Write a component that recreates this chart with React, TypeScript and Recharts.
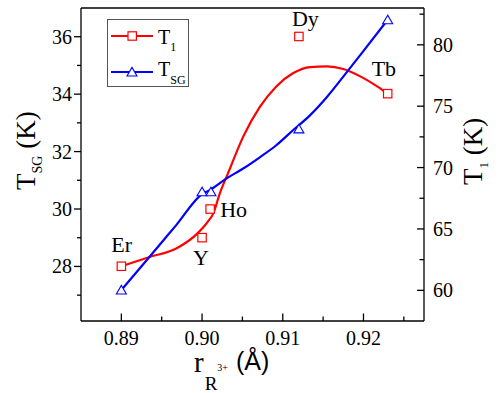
import React from 'react';
import { ComposedChart, Line, XAxis, YAxis, ReferenceLine } from 'recharts';

// measured points
const ions = ['Er', 'Y', 'Ho', 'Dy', 'Tb'];
const radius = [0.89, 0.9, 0.901, 0.912, 0.923];
const t1Values = [61.96, 64.29, 66.62, 80.68, 76.02];
const tsgRadius = [0.89, 0.9, 0.9011, 0.912, 0.923];
const tsgValues = [27.18, 30.6, 30.6, 32.79, 36.59];

// guide curves
const t1CurveR = [0.89, 0.8935, 0.8968, 0.8995, 0.9007, 0.9014, 0.9022, 0.9032, 0.9051, 0.9072, 0.9092, 0.9113, 0.9134, 0.9155, 0.9175, 0.9196, 0.9217, 0.923];
const t1CurveV = [61.96, 62.72, 63.41, 64.68, 65.58, 66.27, 67.9, 69.5, 72.52, 74.98, 76.61, 77.7, 78.19, 78.24, 78.03, 77.43, 76.61, 76.02];
const tsgCurveR = [0.89, 0.8935, 0.8968, 0.9001, 0.9009, 0.903, 0.9051, 0.9072, 0.9092, 0.9113, 0.9134, 0.9155, 0.9175, 0.9196, 0.923];
const tsgCurveV = [27.18, 28.34, 29.44, 30.54, 30.65, 31.06, 31.41, 31.81, 32.22, 32.75, 33.27, 33.91, 34.61, 35.36, 36.59];

// ticks
const xMajor = [0.89, 0.9, 0.91, 0.92];
const xMinor = [0.895, 0.905, 0.915, 0.925];
const leftMajor = [28, 30, 32, 34, 36];
const leftMinor = [27, 29, 31, 33, 35];
const rightMajor = [60, 65, 70, 75, 80];
const rightMinor = [62.5, 67.5, 72.5, 77.5, 82.5];

const points = ions.map((ion, i) => ({ ion, r: radius[i], t1: t1Values[i] }));
const tsgPoints = tsgRadius.map((r, i) => ({ r, tsg: tsgValues[i] }));
const t1Curve = t1CurveR.map((r, i) => ({ r, t1: t1CurveV[i] }));
const tsgCurve = tsgCurveR.map((r, i) => ({ r, tsg: tsgCurveV[i] }));

const serif = 'Liberation Serif';
const sans = 'Liberation Sans';
const RED = '#ff0000';
const BLUE = '#0000ff';

const sortNum = (a: number[], b: number[]) => [...a, ...b].sort((p, q) => p - q);

const LeftTick = (props: any) => {
  const { x, y, payload } = props;
  const major = leftMajor.includes(payload.value);
  return (
    <g>
      <line x1={x - (major ? 7 : 4)} x2={x} y1={y} y2={y} stroke="#000" strokeWidth={1.3} />
      {major && (
        <text x={x - 9} y={y + 7} textAnchor="end" style={{ fontFamily: serif, fontSize: 20 }} fill="#000">
          {payload.value}
        </text>
      )}
    </g>
  );
};

const RightTick = (props: any) => {
  const { x, y, payload } = props;
  const major = rightMajor.includes(payload.value);
  return (
    <g>
      <line x1={x - (major ? 7 : 4.5)} x2={x} y1={y} y2={y} stroke="#000" strokeWidth={1.3} />
      {major && (
        <text x={x + 9} y={y + 7} textAnchor="start" style={{ fontFamily: serif, fontSize: 20 }} fill="#000">
          {payload.value}
        </text>
      )}
    </g>
  );
};

const BottomTick = (props: any) => {
  const { x, y, payload } = props;
  const major = xMajor.includes(payload.value);
  return (
    <g>
      <line x1={x} x2={x} y1={y - (major ? 7.5 : 4.5)} y2={y} stroke="#000" strokeWidth={1.3} />
      {major && (
        <text x={x} y={y + 24} textAnchor="middle" style={{ fontFamily: serif, fontSize: 20 }} fill="#000">
          {payload.value.toFixed(2)}
        </text>
      )}
    </g>
  );
};

// offsets of the ion names next to their squares
const nameOffsets = [[-10, -14], [-9, 27.5], [10, 8], [-7, -10], [-16, -17.5]];

const SquareDot = (props: any) => {
  const { cx, cy, index, payload } = props;
  if (cx == null || cy == null) return <g key={index} />;
  const [dx, dy] = nameOffsets[index];
  return (
    <g key={`sq-${index}`}>
      <rect x={cx - 4.2} y={cy - 4.2} width={8.4} height={8.4} fill="#fff" stroke={RED} strokeWidth={1.2} />
      <text x={cx + dx} y={cy + dy} style={{ fontFamily: serif, fontSize: 22 }} fill="#000">
        {payload.ion}
      </text>
    </g>
  );
};

const TriangleDot = (props: any) => {
  const { cx, cy, index } = props;
  if (cx == null || cy == null) return <g key={index} />;
  return (
    <polygon
      key={`tr-${index}`}
      points={`${cx},${cy - 4.6} ${cx - 5},${cy + 4} ${cx + 5},${cy + 4}`}
      fill="#fff"
      stroke={BLUE}
      strokeWidth={1.1}
    />
  );
};

const LeftLabel = (props: any) => {
  const { viewBox } = props;
  const x = viewBox.x + 35;
  const y = viewBox.y + 182;
  return (
    <text transform={`rotate(-90, ${x}, ${y})`} x={x} y={y} style={{ fontFamily: serif, fontSize: 27 }} fill="#000">
      T<tspan style={{ fontSize: 14 }} dy={7}>SG</tspan>
      <tspan dy={-7}> (K)</tspan>
    </text>
  );
};

const RightLabel = (props: any) => {
  const { viewBox } = props;
  const x = viewBox.x + 58;
  const y = viewBox.y + 177;
  return (
    <text transform={`rotate(-90, ${x}, ${y})`} x={x} y={y} style={{ fontFamily: serif, fontSize: 27 }} fill="#000">
      T<tspan style={{ fontSize: 13 }} dy={6}>1</tspan>
      <tspan dy={-6}> (K)</tspan>
    </text>
  );
};

const BottomLabel = (props: any) => {
  const { viewBox } = props;
  const x = viewBox.x + 113;
  const y = viewBox.y + 51;
  return (
    <text x={x} y={y} style={{ fontFamily: serif, fontSize: 29 }} fill="#000">
      r
      <tspan style={{ fontSize: 19 }} dx={1} dy={18}>R</tspan>
      <tspan style={{ fontSize: 10 }} dy={-19}>3+</tspan>
      <tspan style={{ fontFamily: sans, fontSize: 25 }} dx={8} dy={-1}>(Å)</tspan>
    </text>
  );
};

const LegendBox = () => (
  <svg width={498} height={393} style={{ position: 'absolute', left: 0, top: 0, pointerEvents: 'none' }}>
    <rect x={107.5} y={19.5} width={81} height={67} fill="#fff" stroke="#555" strokeWidth={1} />
    <line x1={111} x2={153} y1={36} y2={36} stroke={RED} strokeWidth={2.2} />
    <rect x={128} y={31.8} width={8.4} height={8.4} fill="#fff" stroke={RED} strokeWidth={1.2} />
    <text x={158} y={44} style={{ fontFamily: serif, fontSize: 20 }} fill="#000">
      T<tspan style={{ fontSize: 12 }} dy={7}>1</tspan>
    </text>
    <line x1={111} x2={153} y1={72} y2={72} stroke={BLUE} strokeWidth={2.2} />
    <polygon points="132,67.4 127,76 137,76" fill="#fff" stroke={BLUE} strokeWidth={1.1} />
    <text x={158} y={75.5} style={{ fontFamily: serif, fontSize: 20 }} fill="#000">
      T<tspan style={{ fontSize: 12 }} dy={8}>SG</tspan>
    </text>
  </svg>
);

export default function App() {
  return (
    <div style={{ position: 'absolute', left: 0, top: 0, width: 498, height: 393, background: '#fff' }}>
      <ComposedChart width={498} height={393} margin={{ top: 8, right: 0, bottom: 0, left: 0 }}>
        <XAxis
          dataKey="r"
          type="number"
          domain={[0.885, 0.9275]}
          allowDataOverflow
          ticks={sortNum(xMajor, xMinor)}
          interval={0}
          height={72}
          tickSize={0}
          tickMargin={0}
          tickLine={false}
          tick={<BottomTick />}
          axisLine={{ stroke: '#000', strokeWidth: 1.3 }}
          label={<BottomLabel />}
        />
        <YAxis
          yAxisId="left"
          orientation="left"
          type="number"
          width={81}
          domain={[26.1, 37]}
          allowDataOverflow
          ticks={sortNum(leftMajor, leftMinor)}
          interval={0}
          tickSize={0}
          tickMargin={0}
          tickLine={false}
          tick={<LeftTick />}
          axisLine={{ stroke: '#000', strokeWidth: 1.3 }}
          label={<LeftLabel />}
        />
        <YAxis
          yAxisId="right"
          orientation="right"
          type="number"
          width={74}
          domain={[57.5, 83]}
          allowDataOverflow
          ticks={sortNum(rightMajor, rightMinor)}
          interval={0}
          tickSize={0}
          tickMargin={0}
          tickLine={false}
          tick={<RightTick />}
          axisLine={{ stroke: '#000', strokeWidth: 1.3 }}
          label={<RightLabel />}
        />
        <ReferenceLine yAxisId="left" y={37} stroke="#000" strokeWidth={1.3} />
        <Line
          data={t1Curve}
          yAxisId="right"
          dataKey="t1"
          type="monotone"
          stroke={RED}
          strokeWidth={2.2}
          dot={false}
          activeDot={false}
          isAnimationActive={false}
        />
        <Line
          data={tsgCurve}
          yAxisId="left"
          dataKey="tsg"
          type="monotone"
          stroke={BLUE}
          strokeWidth={2.2}
          dot={false}
          activeDot={false}
          isAnimationActive={false}
        />
        <Line
          data={tsgPoints}
          yAxisId="left"
          dataKey="tsg"
          stroke="none"
          dot={<TriangleDot />}
          activeDot={false}
          isAnimationActive={false}
        />
        <Line
          data={points}
          yAxisId="right"
          dataKey="t1"
          stroke="none"
          dot={<SquareDot />}
          activeDot={false}
          isAnimationActive={false}
        />
      </ComposedChart>
      <LegendBox />
    </div>
  );
}
